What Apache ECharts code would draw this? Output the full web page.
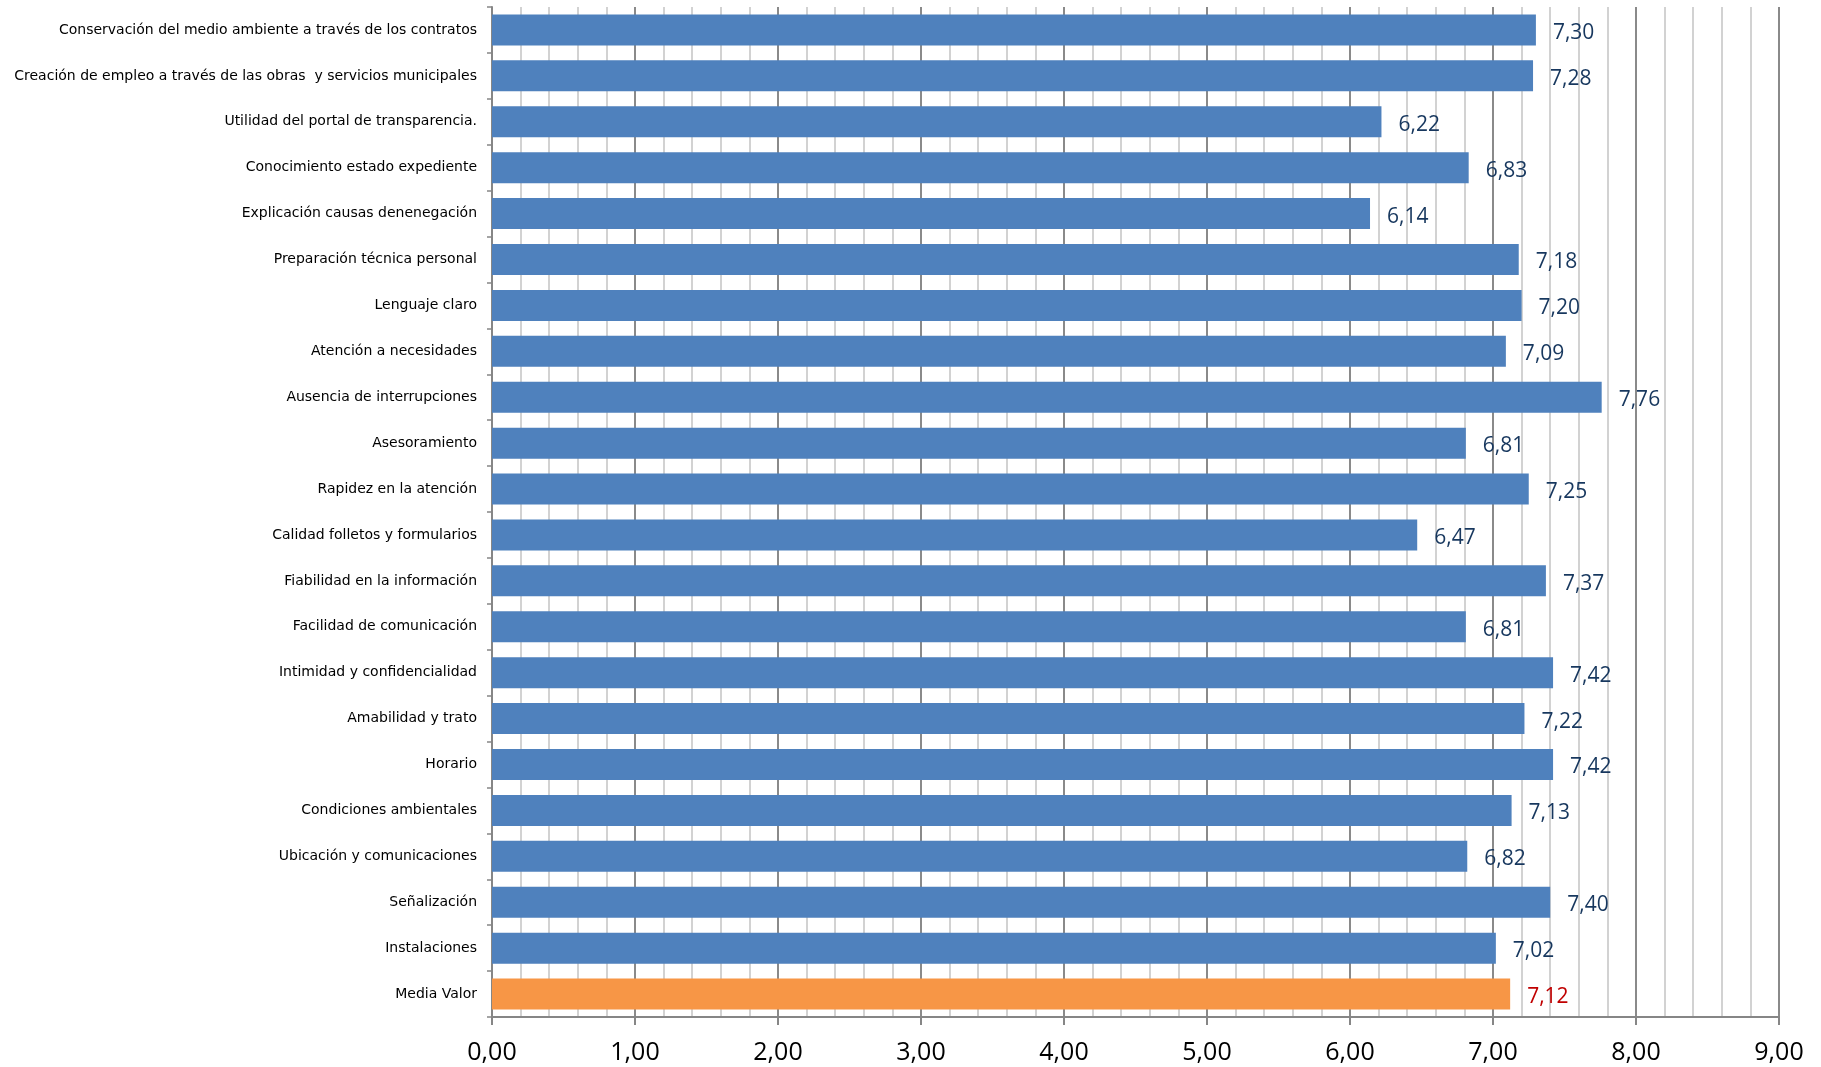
<!DOCTYPE html>
<html>
<head>
<meta charset="utf-8">
<script src="https://cdn.jsdelivr.net/npm/echarts@6/dist/echarts.min.js"></script>
<style>
  html, body { margin: 0; padding: 0; background: #fff; }
  #chart { width: 1821px; height: 1067px; }
</style>
</head>
<body>
<div id="chart"></div>
<script>
// Service items, listed top to bottom
const categories = [
  'Conservación del medio ambiente a través de los contratos',
  'Creación de empleo a través de las obras  y servicios municipales',
  'Utilidad del portal de transparencia.',
  'Conocimiento estado expediente',
  'Explicación causas denenegación',
  'Preparación técnica personal',
  'Lenguaje claro',
  'Atención a necesidades',
  'Ausencia de interrupciones',
  'Asesoramiento',
  'Rapidez en la atención',
  'Calidad folletos y formularios',
  'Fiabilidad en la información',
  'Facilidad de comunicación',
  'Intimidad y confidencialidad',
  'Amabilidad y trato',
  'Horario',
  'Condiciones ambientales',
  'Ubicación y comunicaciones',
  'Señalización',
  'Instalaciones',
  'Media Valor'
];

// Average rating per item (same order)
const values = [
  7.30, 7.28, 6.22, 6.83, 6.14, 7.18, 7.20, 7.09, 7.76, 6.81, 7.25,
  6.47, 7.37, 6.81, 7.42, 7.22, 7.42, 7.13, 6.82, 7.40, 7.02, 7.12
];

// The overall average row is highlighted
const highlightCategory = 'Media Valor';

const axisMin = 0;
const axisMax = 9;
const axisStep = 1;

const fmt = v => v.toFixed(2).replace('.', ',');

const seriesData = values.map((v, i) => {
  const hl = categories[i] === highlightCategory;
  return {
    value: v,
    itemStyle: { color: hl ? '#F79646' : '#4F81BD' },
    label: { color: hl ? '#C00000' : '#17375E' }
  };
});

const chart = echarts.init(document.getElementById('chart'), null, { renderer: 'canvas' });

chart.setOption({
  animation: false,
  backgroundColor: '#ffffff',
  grid: { left: 492, right: 42, top: 7, bottom: 50, containLabel: false },
  xAxis: {
    type: 'value',
    min: axisMin,
    max: axisMax,
    interval: axisStep,
    axisLine: { show: true, lineStyle: { color: '#868686', width: 2 } },
    axisTick: { show: true, length: 8, lineStyle: { color: '#868686', width: 2 } },
    axisLabel: {
      formatter: fmt,
      fontFamily: 'Open Sans',
      fontSize: 25,
      color: '#000',
      margin: 23
    },
    splitLine: { show: true, lineStyle: { color: '#8a8a8a', width: 2 } },
    minorTick: { show: false, splitNumber: 5 },
    minorSplitLine: { show: true, lineStyle: { color: '#c4c4c4', width: 1.5 } }
  },
  yAxis: {
    type: 'category',
    data: categories,
    inverse: true,
    axisLine: { show: true, lineStyle: { color: '#868686', width: 2 } },
    axisTick: { show: true, length: 5, lineStyle: { color: '#868686', width: 1.5 } },
    axisLabel: {
      fontFamily: 'DejaVu Sans',
      fontSize: 14,
      color: '#000',
      margin: 15
    },
    splitLine: { show: false }
  },
  series: [{
    type: 'bar',
    data: seriesData,
    barCategoryGap: '32.5%',
    label: {
      show: true,
      position: 'right',
      distance: 17,
      offset: [0, 3],
      fontFamily: 'Open Sans',
      fontSize: 21,
      formatter: p => fmt(p.value)
    }
  }]
});
</script>
</body>
</html>
